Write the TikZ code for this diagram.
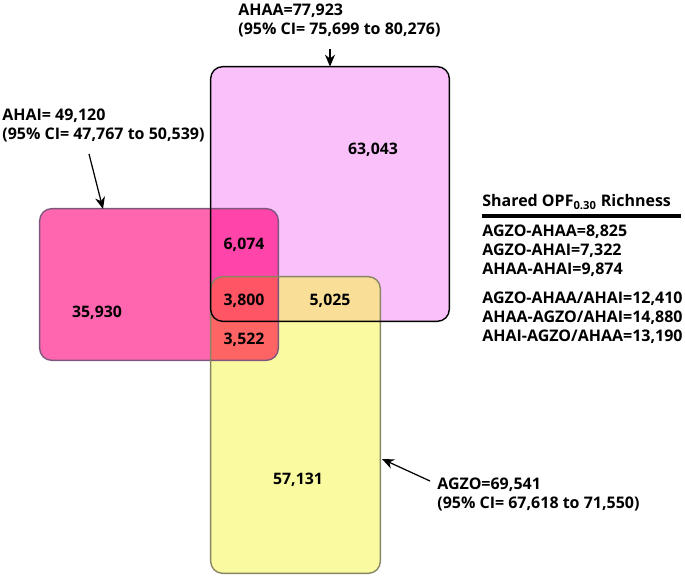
\documentclass[tikz,border=0pt]{standalone}
\usepackage{fontspec}
\setmainfont{Open Sans}
\usetikzlibrary{arrows.meta, positioning}

\definecolor{ahaaFill}{RGB}{249,192,250}
\definecolor{ahaiFill}{RGB}{255,102,175}
\definecolor{agzoFill}{RGB}{250,250,160}
\definecolor{ahaiAhaa}{RGB}{255,68,170}
\definecolor{agzoAhaa}{RGB}{248,222,150}
\definecolor{agzoAhai}{RGB}{255,100,100}
\definecolor{allThree}{RGB}{255,85,100}
\definecolor{ahaiLine}{RGB}{125,85,125}
\definecolor{agzoLine}{RGB}{135,135,100}

\begin{document}
\begin{tikzpicture}[
    x=0.02cm, y=-0.02cm,
    font=\bfseries\fontsize{9.1}{10.8}\selectfont,
    box/.style={rectangle, rounded corners=0.24cm, inner sep=0pt},
    edge/.style={rounded corners=0.24cm, line width=0.8pt},
    arrow/.style={-{Stealth[length=2.4mm, width=2mm]}, line width=0.7pt},
    count/.style={font=\bfseries\fontsize{9}{11}\selectfont},
    lbl/.style={align=left, anchor=north west, inner sep=0pt},
]
\useasboundingbox (0,0) rectangle (685,580);
% Boxes
\node[box, fill=ahaaFill, minimum width=4.76cm, minimum height=5.08cm] (ahaa) at (330,194) {};
\node[box, fill=ahaiFill, minimum width=4.76cm, minimum height=3.02cm] (ahai) at (159,284.5) {};
\node[box, fill=agzoFill, minimum width=3.38cm, minimum height=5.92cm] (agzo) at (295.5,425) {};
% Overlaps
\begin{scope}
\clip[rounded corners=0.24cm] (ahai.south west) rectangle (ahai.north east);
\fill[ahaiAhaa, rounded corners=0.24cm] (ahaa.south west) rectangle (ahaa.north east);
\end{scope}
\begin{scope}
\clip[rounded corners=0.24cm] (agzo.south west) rectangle (agzo.north east);
\fill[agzoAhaa, rounded corners=0.24cm] (ahaa.south west) rectangle (ahaa.north east);
\fill[agzoAhai, rounded corners=0.24cm] (ahai.south west) rectangle (ahai.north east);
\clip[rounded corners=0.24cm] (ahai.south west) rectangle (ahai.north east);
\fill[allThree, rounded corners=0.24cm] (ahaa.south west) rectangle (ahaa.north east);
\end{scope}
% Outlines
\draw[edge, ahaiLine] (ahai.south west) rectangle (ahai.north east);
\draw[edge, agzoLine] (agzo.south west) rectangle (agzo.north east);
\draw[edge, black] (ahaa.south west) rectangle (ahaa.north east);
% Counts
\node[count] (onlyAhaa) at (373,150) {63,043};
\node[count] (onlyAhai) at (97,313) {35,930};
\node[count] (onlyAgzo) at (298,480) {57,131};
\node[count] (ahaiAhaaN) at (244,245) {6,074};
\node[count] (allN) at (244,301) {3,800};
\node[count] (agzoAhaaN) at (330,301) {5,025};
\node[count] (agzoAhaiN) at (244,340) {3,522};
% Totals
\node[lbl] (ahaaLbl) at (238,4) {AHAA=77,923\\(95\% CI= 75,699 to 80,276)};
\node[lbl] (ahaiLbl) at (2,109) {AHAI= 49,120\\(95\% CI= 47,767 to 50,539)};
\node[lbl] (agzoLbl) at (437,478) {AGZO=69,541\\(95\% CI= 67,618 to 71,550)};
\coordinate (ahaiTail) at (89,154);
\coordinate (ahaiHead) at (103,209);
\coordinate (agzoTail) at (430,481);
\coordinate (agzoHead) at (382,459);
\draw[arrow] (ahaa.north |- 0,49) -- (ahaa.north);
\draw[arrow] (ahaiTail) -- (ahaiHead);
\draw[arrow] (agzoTail) -- (agzoHead);
% Shared richness
\node[lbl] (ttl) at (482,194) {Shared OPF\textsubscript{0.30} Richness};
\draw[line width=2.2pt] (482,216) -- (681,216);
\node[lbl] (pairs) at (482,225) {AGZO-AHAA=8,825\\AGZO-AHAI=7,322\\AHAA-AHAI=9,874};
\node[lbl] (triples) at (482,292) {AGZO-AHAA/AHAI=12,410\\AHAA-AGZO/AHAI=14,880\\AHAI-AGZO/AHAA=13,190};
\end{tikzpicture}
\end{document}
